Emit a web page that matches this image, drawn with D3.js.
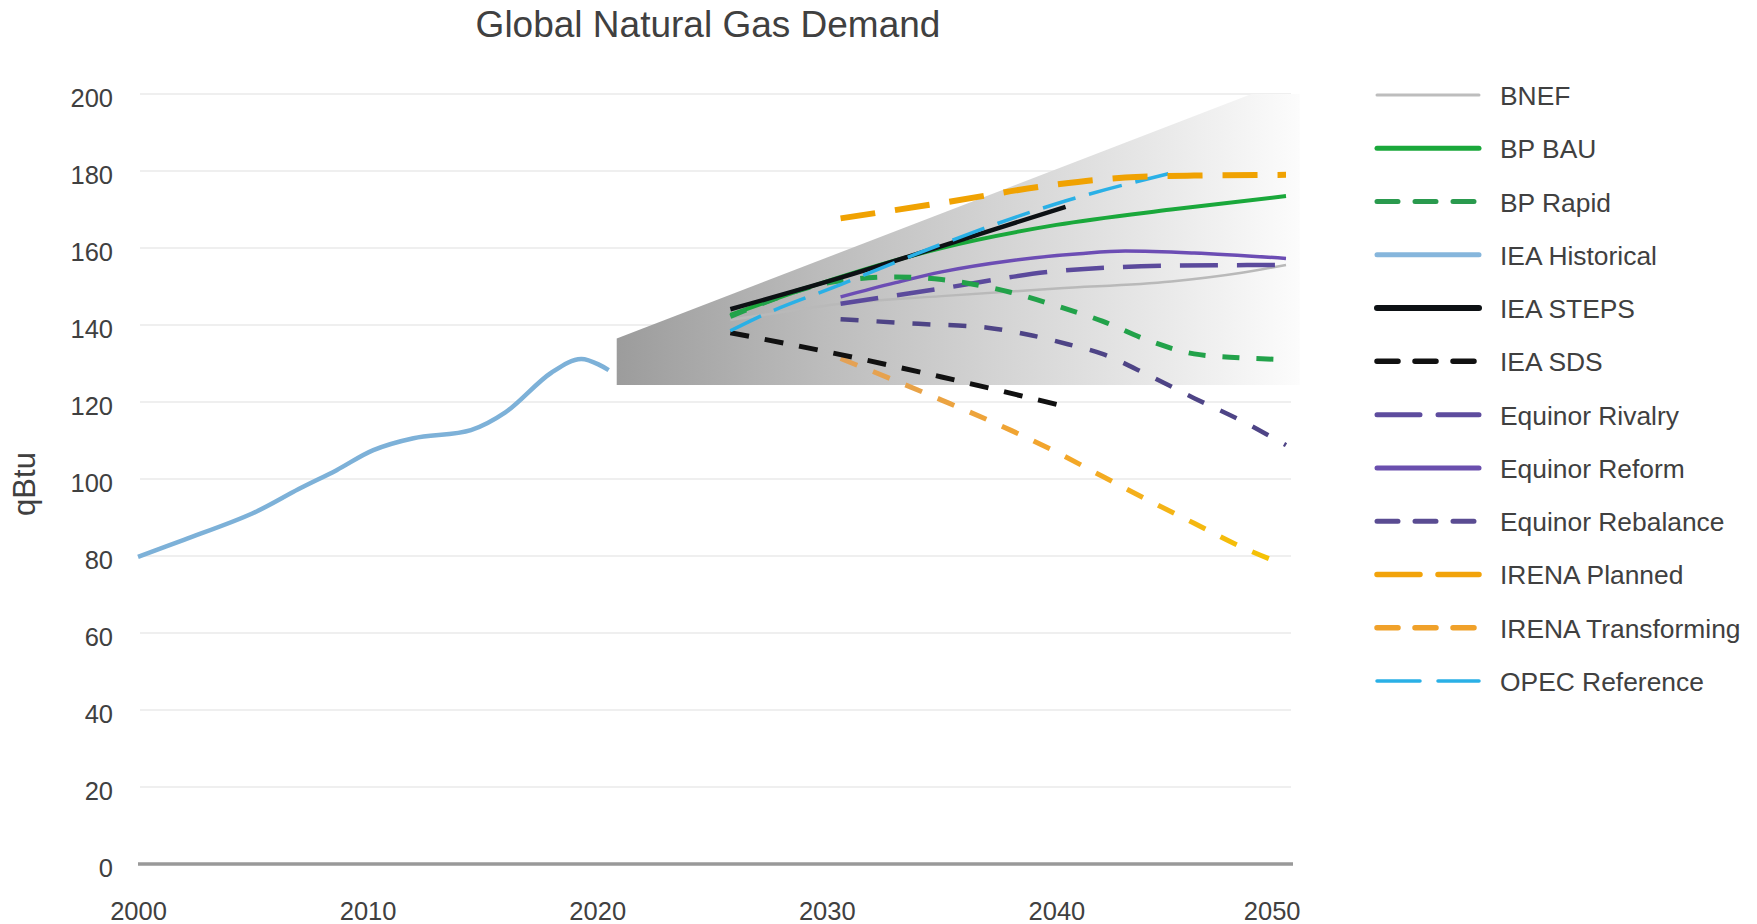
<!DOCTYPE html>
<html><head><meta charset="utf-8">
<script src="https://cdn.jsdelivr.net/npm/d3@7"></script>
<style>
html,body{margin:0;padding:0;background:#fff;}
svg{display:block;font-family:"Liberation Sans",Arial,Helvetica,sans-serif;}
</style></head><body>
<svg id="chart" width="1757" height="924"></svg>
<script>
// ---------- DATA ----------
const chartTitle = "Global Natural Gas Demand";
const yAxisLabel = "qBtu";
const yTicks = [0, 20, 40, 60, 80, 100, 120, 140, 160, 180, 200];
const xTicks = [2000, 2010, 2020, 2030, 2040, 2050];

const historicalYears  = [2000, 2002, 2005, 2007, 2008.65, 2010.25, 2012, 2014.5, 2016, 2018, 2019.3, 2020.5];
const historicalValues = [79.8, 84.2, 91.1, 97.4, 102.3, 107.5, 110.6, 112.7, 117.3, 127.6, 131.2, 128.3];

const bnefYears  = [2025.8, 2028, 2030.6, 2035, 2040, 2045, 2048, 2050];
const bnefValues = [141.3, 143.3, 145.5, 147.5, 149.5, 151.3, 153.5, 155.6];

const bpBauYears  = [2025.8, 2030.6, 2035, 2040, 2045, 2050];
const bpBauValues = [142.6, 152.5, 160, 166, 170, 173.5];

const bpRapidYears  = [2025.8, 2030.6, 2033, 2035, 2038, 2040, 2042, 2044, 2046, 2048, 2050];
const bpRapidValues = [142.2, 151.5, 152.5, 151.8, 148.5, 145, 141, 136, 132.5, 131.5, 131];

const ieaStepsYears  = [2025.8, 2030.6, 2035, 2040.4];
const ieaStepsValues = [144.1, 152.3, 160.5, 170.7];

const ieaSdsYears  = [2025.8, 2030.6, 2035, 2040.4];
const ieaSdsValues = [138, 132.3, 126.5, 118.8];

const eqRivalryYears  = [2030.6, 2035, 2040, 2045, 2050];
const eqRivalryValues = [145.5, 149.5, 154, 155.4, 155.6];

const eqReformYears  = [2030.6, 2033, 2035, 2038, 2041, 2043, 2046, 2050];
const eqReformValues = [147.3, 151, 153.8, 156.7, 158.5, 159.2, 158.7, 157.3];

const eqRebalanceYears  = [2030.6, 2034, 2037, 2039, 2040.5, 2042, 2044, 2046, 2048, 2050];
const eqRebalanceValues = [141.5, 140.3, 139.3, 137.2, 135, 132.5, 127, 121, 115.3, 108.8];

const irenaPlannedYears  = [2030.6, 2035, 2040, 2043, 2046, 2050];
const irenaPlannedValues = [167.7, 171.7, 176.5, 178.3, 178.8, 179];

const irenaTransYears  = [2030.6, 2033, 2035, 2038, 2040, 2042, 2044, 2046, 2048, 2049.8];
const irenaTransValues = [131.3, 125.5, 120.5, 112.7, 107, 100.7, 94.5, 88.5, 82.5, 78];

const opecYears  = [2025.8, 2027, 2030.6, 2035, 2040, 2045.1];
const opecValues = [138.5, 142, 150.5, 161, 171.5, 179.6];

// range of projections (shaded)
const shadeYears  = [2020.85, 2020.85, 2048.5, 2050.6, 2050.6];
const shadeValues = [124.4, 136.5, 200, 200, 124.4];

const legendNames = ["BNEF", "BP BAU", "BP Rapid", "IEA Historical", "IEA STEPS", "IEA SDS",
  "Equinor Rivalry", "Equinor Reform", "Equinor Rebalance", "IRENA Planned", "IRENA Transforming", "OPEC Reference"];

// ---------- SETUP ----------
const svg = d3.select("#chart");
const x = d3.scaleLinear().domain([2000, 2050]).range([138, 1286]);
const y = d3.scaleLinear().domain([0, 200]).range([864, 94]);
const zip = (xs, vs) => xs.map((v, i) => [v, vs[i]]);

const defs = svg.append("defs");
const shadeGrad = defs.append("linearGradient").attr("id", "shadeGrad")
  .attr("gradientUnits", "userSpaceOnUse")
  .attr("x1", x(2020.85)).attr("x2", x(2050.6)).attr("y1", 0).attr("y2", 0);
[[0, "#9c9c9c"], [0.3, "#bcbcbc"], [0.55, "#d3d3d3"], [0.8, "#e9e9e9"], [1, "#fcfcfc"]]
  .forEach(([o, c]) => shadeGrad.append("stop").attr("offset", o).attr("stop-color", c));
const transGrad = defs.append("linearGradient").attr("id", "transGrad")
  .attr("gradientUnits", "userSpaceOnUse")
  .attr("x1", x(2030)).attr("x2", x(2050)).attr("y1", 0).attr("y2", 0);
[[0, "#e2a15a"], [0.5, "#f3a52a"], [1, "#f5c400"]]
  .forEach(([o, c]) => transGrad.append("stop").attr("offset", o).attr("stop-color", c));

// title
svg.append("text").attr("x", 708).attr("y", 37).attr("text-anchor", "middle")
  .attr("font-size", 37).attr("fill", "#404040").text(chartTitle);

// y label
svg.append("text").attr("transform", "translate(35,484) rotate(-90)")
  .attr("text-anchor", "middle").attr("font-size", 31).attr("fill", "#404040").text(yAxisLabel);

// y axis labels
const yAxis = d3.axisLeft(y).tickValues(yTicks).tickSize(0).tickPadding(0);
const gy = svg.append("g").attr("transform", "translate(113,0)").call(yAxis);
gy.select(".domain").remove();
gy.selectAll("text").attr("font-size", 25.5).attr("fill", "#404040")
  .attr("font-family", "Liberation Sans, Arial, sans-serif").attr("dy", 12).attr("text-anchor", "end");

// gridlines
svg.append("g").selectAll("line").data(yTicks.filter(d => d > 0)).join("line")
  .attr("x1", 140).attr("x2", 1291).attr("y1", d => y(d)).attr("y2", d => y(d))
  .attr("stroke", "#efefef").attr("stroke-width", 2);

// shaded projection range
svg.append("path")
  .attr("d", d3.line().x(d => x(d[0])).y(d => y(d[1]))(zip(shadeYears, shadeValues)) + "Z")
  .attr("fill", "url(#shadeGrad)");

// zero line
svg.append("line").attr("x1", x(2000)).attr("x2", 1293).attr("y1", y(0)).attr("y2", y(0))
  .attr("stroke", "#999999").attr("stroke-width", 3.5);

// x axis
const xAxis = d3.axisBottom(x).tickValues(xTicks).tickFormat(d3.format("d")).tickSize(0).tickPadding(0);
const gx = svg.append("g").attr("transform", "translate(0,920)").call(xAxis);
gx.select(".domain").remove();
gx.selectAll("text").attr("font-size", 25.5).attr("fill", "#404040")
  .attr("font-family", "Liberation Sans, Arial, sans-serif").attr("dy", 0);
gx.selectAll(".tick").filter(d => d === 2050).select("text").attr("text-anchor", "end").attr("dx", 14);

// series
const series = [
  {name: "BNEF", xs: bnefYears, vs: bnefValues, color: "#b9b9b9", w: 2.5, dash: null, curve: d3.curveMonotoneX},
  {name: "Equinor Rebalance", xs: eqRebalanceYears, vs: eqRebalanceValues, color: "#4e4486", w: 4.5, dash: "18,18", curve: d3.curveMonotoneX},
  {name: "Equinor Reform", xs: eqReformYears, vs: eqReformValues, color: "#6c4db4", w: 3.5, dash: null, curve: d3.curveMonotoneX},
  {name: "Equinor Rivalry", xs: eqRivalryYears, vs: eqRivalryValues, color: "#5b4a9c", w: 4.5, dash: "38,19", curve: d3.curveMonotoneX},
  {name: "BP BAU", xs: bpBauYears, vs: bpBauValues, color: "#1aa83b", w: 4, dash: null, curve: d3.curveMonotoneX},
  {name: "BP Rapid", xs: bpRapidYears, vs: bpRapidValues, color: "#22a24a", w: 5, dash: "17,17", curve: d3.curveMonotoneX},
  {name: "IRENA Transforming", xs: irenaTransYears, vs: irenaTransValues, color: "url(#transGrad)", w: 5, dash: "18,17", curve: d3.curveMonotoneX},
  {name: "IEA SDS", xs: ieaSdsYears, vs: ieaSdsValues, color: "#111111", w: 5, dash: "19,16", curve: d3.curveMonotoneX},
  {name: "IEA STEPS", xs: ieaStepsYears, vs: ieaStepsValues, color: "#0d1114", w: 4.5, dash: null, curve: d3.curveMonotoneX},
  {name: "OPEC Reference", xs: opecYears, vs: opecValues, color: "#2ab0e6", w: 3.5, dash: "34,14", curve: d3.curveMonotoneX},
  {name: "IRENA Planned", xs: irenaPlannedYears, vs: irenaPlannedValues, color: "#f0a202", w: 6, dash: "35,20", curve: d3.curveMonotoneX},
  {name: "IEA Historical", xs: historicalYears, vs: historicalValues, color: "#7db1d8", w: 4.5, dash: null, curve: d3.curveCatmullRom.alpha(0.5)}
];

const lineGroup = svg.append("g").attr("fill", "none").attr("stroke-linecap", "butt");
series.forEach(s => {
  lineGroup.append("path")
    .attr("d", d3.line().curve(s.curve).x(d => x(d[0])).y(d => y(d[1]))(zip(s.xs, s.vs)))
    .attr("stroke", s.color).attr("stroke-width", s.w)
    .attr("stroke-dasharray", s.dash);
});

// legend
const legendStyle = {
  "BNEF": {color: "#bdbdbd", w: 3, dash: null},
  "BP BAU": {color: "#1aa83b", w: 5, dash: null},
  "BP Rapid": {color: "#2a9a4e", w: 5, dash: "21,17"},
  "IEA Historical": {color: "#86b6dc", w: 5, dash: null},
  "IEA STEPS": {color: "#0d1114", w: 6, dash: null},
  "IEA SDS": {color: "#111111", w: 5.5, dash: "21,17"},
  "Equinor Rivalry": {color: "#5e4c9e", w: 5, dash: "43,18"},
  "Equinor Reform": {color: "#6a4fae", w: 5, dash: null},
  "Equinor Rebalance": {color: "#5a4c92", w: 5, dash: "21,17"},
  "IRENA Planned": {color: "#f2a30a", w: 5.5, dash: "43,18"},
  "IRENA Transforming": {color: "#f0a12a", w: 5.5, dash: "21,17"},
  "OPEC Reference": {color: "#2ab0e6", w: 3.5, dash: "43,18"}
};
const legY = d3.scaleLinear().domain([0, legendNames.length - 1]).range([95, 681]);
const leg = svg.append("g");
legendNames.forEach((n, i) => {
  const st = legendStyle[n];
  leg.append("line").attr("x1", 1377).attr("x2", 1479).attr("y1", legY(i)).attr("y2", legY(i))
    .attr("stroke", st.color).attr("stroke-width", st.w).attr("stroke-dasharray", st.dash)
    .attr("stroke-linecap", "round");
  leg.append("text").attr("x", 1500).attr("y", legY(i) + 10)
    .attr("font-size", 26.4).attr("fill", "#404040").text(n);
});
</script>
</body></html>
